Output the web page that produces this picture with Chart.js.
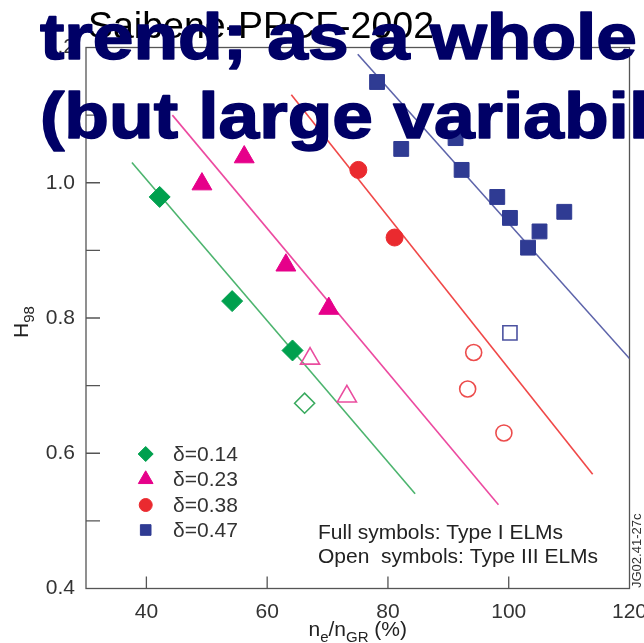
<!DOCTYPE html>
<html>
<head>
<meta charset="utf-8">
<title>H98 vs ne/nGR</title>
<script src="https://cdn.jsdelivr.net/npm/chart.js@4.4.1/dist/chart.umd.min.js"></script>
<style>
  html, body { margin: 0; padding: 0; overflow: hidden; background: #fff; }
  #wrap { position: relative; width: 680px; height: 643px; }
</style>
</head>
<body>
<div id="wrap"><canvas id="h98Chart"></canvas></div>
<script>
// H98 against Greenwald fraction, one group per triangularity
const deltaLabels = ['δ=0.14', 'δ=0.23', 'δ=0.38', 'δ=0.47'];
const fullColors = ['#00a04e', '#e6008a', '#ea2a2f', '#2f3b93'];
const openColors = ['#3aaa5f', '#ea4d9f', '#ec4c4c', '#4b52a0'];
const fitColors = ['#4cb46e', '#ec4aa0', '#f04848', '#5d64aa'];
const markerStyles = ['rectRot', 'triangle', 'circle', 'rect'];
const markerRadius = [10.5, 11.5, 8.5, 10.5];
const legendRadius = [7.5, 8.5, 6.5, 7.5];

// Type I ELMs (full symbols)
const neTypeI_014 = [42.2, 54.2, 64.2];
const h98TypeI_014 = [0.979, 0.825, 0.752];
const neTypeI_023 = [49.2, 56.2, 63.1, 70.2];
const h98TypeI_023 = [0.998, 1.038, 0.878, 0.814];
const neTypeI_038 = [75.1, 81.1];
const h98TypeI_038 = [1.019, 0.919];
const neTypeI_047 = [78.2, 82.2, 91.2, 92.2, 98.1, 100.2, 109.2, 105.1, 103.2];
const h98TypeI_047 = [1.149, 1.050, 1.066, 1.019, 0.979, 0.948, 0.957, 0.928, 0.904];

// Type III ELMs (open symbols)
const neTypeIII_014 = [66.2];
const h98TypeIII_014 = [0.674];
const neTypeIII_023 = [67.1, 73.2];
const h98TypeIII_023 = [0.740, 0.684];
const neTypeIII_038 = [94.2, 93.2, 99.2];
const h98TypeIII_038 = [0.749, 0.695, 0.630];
const neTypeIII_047 = [100.2];
const h98TypeIII_047 = [0.778];

// trend lines (end points)
const neFit_014 = [37.6, 84.5];
const h98Fit_014 = [1.030, 0.540];
const neFit_023 = [44.3, 98.3];
const h98Fit_023 = [1.100, 0.524];
const neFit_038 = [64.0, 113.9];
const h98Fit_038 = [1.130, 0.569];
const neFit_047 = [75.0, 120.0];
const h98Fit_047 = [1.190, 0.740];

// axes
const neTicks = [40, 60, 80, 100, 120];
const neTickLabels = ['40', '60', '80', '100', '120'];
const h98Ticks = [0.4, 0.5, 0.6, 0.7, 0.8, 0.9, 1.0, 1.1, 1.2];
const h98TickLabels = ['0.4', '', '0.6', '', '0.8', '', '1.0', '', '1.2'];

const groups = [
  { full: [neTypeI_014, h98TypeI_014], open: [neTypeIII_014, h98TypeIII_014], fit: [neFit_014, h98Fit_014] },
  { full: [neTypeI_023, h98TypeI_023], open: [neTypeIII_023, h98TypeIII_023], fit: [neFit_023, h98Fit_023] },
  { full: [neTypeI_038, h98TypeI_038], open: [neTypeIII_038, h98TypeIII_038], fit: [neFit_038, h98Fit_038] },
  { full: [neTypeI_047, h98TypeI_047], open: [neTypeIII_047, h98TypeIII_047], fit: [neFit_047, h98Fit_047] }
];

const toPoints = (xs, ys) => xs.map((x, i) => ({ x: x, y: ys[i] }));

const datasets = [];
groups.forEach((g, i) => {
  datasets.push({
    label: deltaLabels[i],
    data: toPoints(g.full[0], g.full[1]),
    pointStyle: markerStyles[i],
    pointRadius: markerRadius[i],
    backgroundColor: fullColors[i],
    borderColor: fullColors[i],
    pointBorderWidth: 1,
    order: 1
  });
  datasets.push({
    label: deltaLabels[i] + ' Type III',
    data: toPoints(g.open[0], g.open[1]),
    pointStyle: markerStyles[i],
    pointRadius: markerRadius[i] - 0.5,
    backgroundColor: 'rgba(255,255,255,0)',
    borderColor: openColors[i],
    pointBorderWidth: 1.6,
    order: 1
  });
  datasets.push({
    label: deltaLabels[i] + ' fit',
    data: toPoints(g.fit[0], g.fit[1]),
    showLine: true,
    pointRadius: 0,
    borderColor: fitColors[i],
    borderWidth: 1.6,
    order: 2
  });
});

const FONT = '"Liberation Sans", Arial, sans-serif';

// text with subscripts: parts = [[text, isSub], ...]
function drawSubText(ctx, parts, x, y, size) {
  const subSize = Math.round(size * 0.7);
  let total = 0;
  parts.forEach(p => {
    ctx.font = (p[1] ? subSize : size) + 'px ' + FONT;
    total += ctx.measureText(p[0]).width;
  });
  let cx = x - total / 2;
  ctx.textAlign = 'left';
  ctx.textBaseline = 'alphabetic';
  parts.forEach(p => {
    ctx.font = (p[1] ? subSize : size) + 'px ' + FONT;
    ctx.fillText(p[0], cx, p[1] ? y + size * 0.28 : y);
    cx += ctx.measureText(p[0]).width;
  });
}

const decor = {
  id: 'decor',
  beforeDatasetsDraw(chart) {
    const { ctx, chartArea: a, scales } = chart;
    ctx.save();
    ctx.strokeStyle = '#555';
    ctx.lineWidth = 1.3;
    ctx.strokeRect(a.left, a.top, a.right - a.left, a.bottom - a.top);
    ctx.beginPath();
    neTicks.forEach(v => {
      const px = scales.x.getPixelForValue(v);
      if (px > a.left + 1 && px < a.right - 1) {
        ctx.moveTo(px, a.bottom);
        ctx.lineTo(px, a.bottom - 12);
      }
    });
    h98Ticks.forEach(v => {
      const py = scales.y.getPixelForValue(v);
      if (py > a.top + 1 && py < a.bottom - 1) {
        ctx.moveTo(a.left, py);
        ctx.lineTo(a.left + 14, py);
      }
    });
    ctx.stroke();
    ctx.restore();
  },
  afterDraw(chart) {
    const { ctx, chartArea: a } = chart;
    ctx.save();

    // legend of full symbols
    const rows = [454, 479.3, 505, 530];
    rows.forEach((ry, i) => {
      ctx.fillStyle = fullColors[i];
      ctx.strokeStyle = fullColors[i];
      ctx.lineWidth = 1;
      Chart.helpers.drawPoint(ctx, { pointStyle: markerStyles[i], radius: legendRadius[i], rotation: 0, borderWidth: 1 }, 145.7, ry);
      ctx.fillStyle = '#333';
      ctx.font = '21px ' + FONT;
      ctx.textAlign = 'left';
      ctx.textBaseline = 'middle';
      ctx.fillText(deltaLabels[i], 173, ry + 1);
    });

    // ELM type note
    ctx.fillStyle = '#222';
    ctx.font = '21px ' + FONT;
    ctx.textBaseline = 'alphabetic';
    ctx.fillText('Full symbols: Type I ELMs', 318, 539);
    ctx.fillText('Open  symbols: Type III ELMs', 318, 563);

    // figure reference along the right edge
    ctx.save();
    ctx.translate(640.5, 588);
    ctx.rotate(-Math.PI / 2);
    ctx.font = '13px ' + FONT;
    ctx.fillStyle = '#333';
    ctx.fillText('JG02.41-27c', 0, 0);
    ctx.restore();

    // axis titles
    ctx.fillStyle = '#222';
    drawSubText(ctx, [['n'], ['e', 1], ['/n'], ['GR', 1], [' (%)']], (a.left + a.right) / 2, 636, 21);
    ctx.save();
    ctx.translate(28, 322);
    ctx.rotate(-Math.PI / 2);
    drawSubText(ctx, [['H'], ['98', 1]], 0, 0, 21);
    ctx.restore();

    // title
    ctx.fillStyle = '#000';
    ctx.font = '37.5px ' + FONT;
    ctx.textAlign = 'left';
    ctx.fillText('Saibene-PPCF-2002', 88, 38);

    // slide caption laid over the plot: heavy, wide lettering
    const line1 = 'trend; as a whole';
    const line2 = '(but large variability)';
    ctx.font = 'bold 65px ' + FONT;
    const sx = 597 / ctx.measureText(line1).width;
    ctx.translate(40, 0);
    ctx.scale(sx, 1);
    ctx.fillStyle = '#000066';
    ctx.strokeStyle = '#000066';
    ctx.lineWidth = 1.6;
    ctx.lineJoin = 'round';
    [[line1, 59], [line2, 138]].forEach(l => {
      ctx.fillText(l[0], 0, l[1]);
      ctx.strokeText(l[0], 0, l[1]);
    });

    ctx.restore();
  }
};

new Chart(document.getElementById('h98Chart'), {
  type: 'scatter',
  data: { datasets: datasets },
  options: {
    responsive: true,
    maintainAspectRatio: false,
    animation: false,
    layout: { padding: { top: 47.5, right: 50.5, bottom: 0, left: 0 } },
    plugins: {
      legend: { display: false },
      tooltip: { enabled: false }
    },
    scales: {
      x: {
        type: 'linear',
        min: 30,
        max: 120,
        afterBuildTicks: s => { s.ticks = neTicks.map(v => ({ value: v })); },
        afterFit: s => { s.height = 54.5; s.paddingLeft = 0; s.paddingRight = 0; },
        grid: { display: false },
        border: { display: false },
        ticks: {
          autoSkip: false,
          maxRotation: 0,
          padding: 3,
          color: '#333',
          font: { family: FONT, size: 21 },
          callback: (v, i) => neTickLabels[i]
        }
      },
      y: {
        type: 'linear',
        min: 0.4,
        max: 1.2,
        afterBuildTicks: s => { s.ticks = h98Ticks.map(v => ({ value: v })); },
        afterFit: s => { s.width = 86; s.paddingTop = 0; s.paddingBottom = 0; },
        grid: { display: false },
        border: { display: false },
        ticks: {
          autoSkip: false,
          padding: 3,
          color: '#333',
          font: { family: FONT, size: 21 },
          callback: (v, i) => h98TickLabels[i]
        }
      }
    }
  },
  plugins: [decor]
});
</script>
</body>
</html>
